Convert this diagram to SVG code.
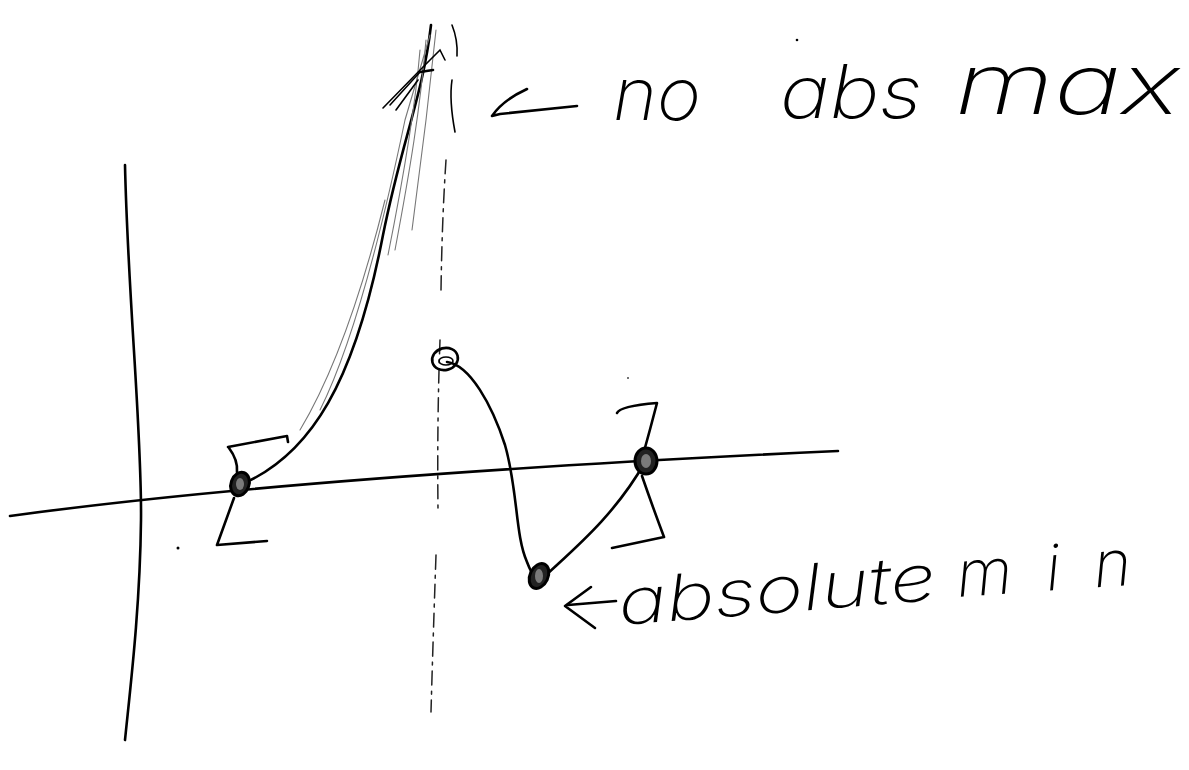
<svg xmlns="http://www.w3.org/2000/svg" width="1189" height="770" viewBox="0 0 1189 770">
<style>
.ink{fill:none;stroke:#000;stroke-width:2.6;stroke-linecap:round;stroke-linejoin:round}
.thin{fill:none;stroke:#000;stroke-width:1.6;stroke-linecap:round}
.faint{fill:none;stroke:#777;stroke-width:1.1;stroke-linecap:round}
.dash{fill:none;stroke:#222;stroke-width:1.5;stroke-linecap:round;stroke-dasharray:14 6 3 6}
.hand{font-family:Inter,"Open Sans","Liberation Sans",sans-serif;font-weight:200;font-style:italic;fill:#000}
.pt{fill:#222;stroke:#000;stroke-width:3}
</style>
<rect width="1189" height="770" fill="#fff"/>
<g id="axes">
<path class="ink" d="M125,165 C128,300 142,430 141,520 C140,610 130,690 125,740"/>
<path class="ink" d="M10,516 Q300,476 838,451"/>
</g>
<g id="asymptote">
<path class="thin" d="M452,25 Q458,40 457,56"/>
<path class="thin" d="M452,80 Q449,100 455,132"/>
<path class="dash" d="M446,160 Q442,220 441,290"/>
<path class="dash" d="M440,340 Q437,420 438,510"/>
<path class="dash" d="M436,555 Q433,640 431,712"/>
</g>
<g id="left-curve">
<path class="ink" d="M240,485 C312,455 355,380 383,235 C402,140 423,95 431,25"/>
<path class="faint" d="M395,250 C410,170 420,110 426,40"/>
<path class="faint" d="M388,255 C405,170 415,110 420,50"/>
<path class="faint" d="M320,410 C350,350 380,240 405,120 L430,35"/>
<path class="faint" d="M300,430 C330,380 360,300 385,200"/>
<path class="faint" d="M436,30 L426,120 L412,230"/>
<path class="thin" d="M383,108 L425,65"/>
<path class="thin" d="M390,105 L420,72"/>
<path class="thin" d="M396,110 L418,80"/>
<path class="ink" d="M420,72 L433,70"/>
<path class="thin" d="M425,65 L440,50 L445,60"/>
</g>
<g id="right-curve">
<path class="ink" d="M447,362 C470,365 492,405 505,445 C518,490 515,535 527,562 C533,578 538,582 545,576 C575,548 615,515 645,462"/>
</g>
<g id="left-bracket">
<path class="ink" d="M228,447 L287,436 L288,442"/>
<path class="ink" d="M229,448 Q238,460 237,472"/>
<path class="ink" d="M234,498 Q226,520 217,545 L267,541"/>
</g>
<g id="right-bracket">
<path class="ink" d="M617,413 Q620,406 657,403 Q650,430 643,455"/>
<path class="ink" d="M642,476 Q652,505 664,537 L612,548"/>
</g>
<g id="points">
<ellipse class="pt" cx="240" cy="484" rx="9" ry="12" transform="rotate(20 240 484)"/>
<ellipse cx="240" cy="484" rx="4" ry="6" fill="#fff" opacity="0.4"/>
<ellipse class="pt" cx="646" cy="461" rx="11" ry="13"/>
<ellipse cx="646" cy="461" rx="5" ry="7" fill="#fff" opacity="0.4"/>
<ellipse class="pt" cx="539" cy="576" rx="9" ry="13" transform="rotate(25 539 576)"/>
<ellipse cx="539" cy="576" rx="4" ry="7" fill="#fff" opacity="0.4"/>
<ellipse class="ink" cx="445" cy="359" rx="13" ry="11" transform="rotate(-15 445 359)"/>
<ellipse class="thin" cx="446" cy="361" rx="7" ry="4"/>
</g>
<g id="label-max">
<path class="ink" d="M527,89 Q503,100 492,116 L500,114 L577,106"/>
<text class="hand" x="613" y="120" font-size="74" textLength="88" lengthAdjust="spacingAndGlyphs">no</text>
<text class="hand" x="780" y="118" font-size="74" textLength="142" lengthAdjust="spacingAndGlyphs">abs</text>
<text class="hand" x="955" y="114" font-size="84" textLength="225" lengthAdjust="spacingAndGlyphs">max</text>
</g>
<g id="label-min">
<path class="ink" d="M591,587 L565,606 L595,628"/>
<path class="ink" d="M568,605 L616,601"/>
<text class="hand" x="620" y="625" font-size="64" textLength="318" lengthAdjust="spacingAndGlyphs" transform="rotate(-4.5 620 625)">absolute</text>
<text class="hand" x="958" y="597" font-size="64" textLength="175" lengthAdjust="spacing" transform="rotate(-4 958 597)">min</text>
</g>
<g id="specks">
<circle cx="178" cy="548" r="1.5" fill="#000"/>
<circle cx="797" cy="40" r="1.3" fill="#000"/>
<circle cx="628" cy="378" r="1" fill="#444"/>
</g>
</svg>
